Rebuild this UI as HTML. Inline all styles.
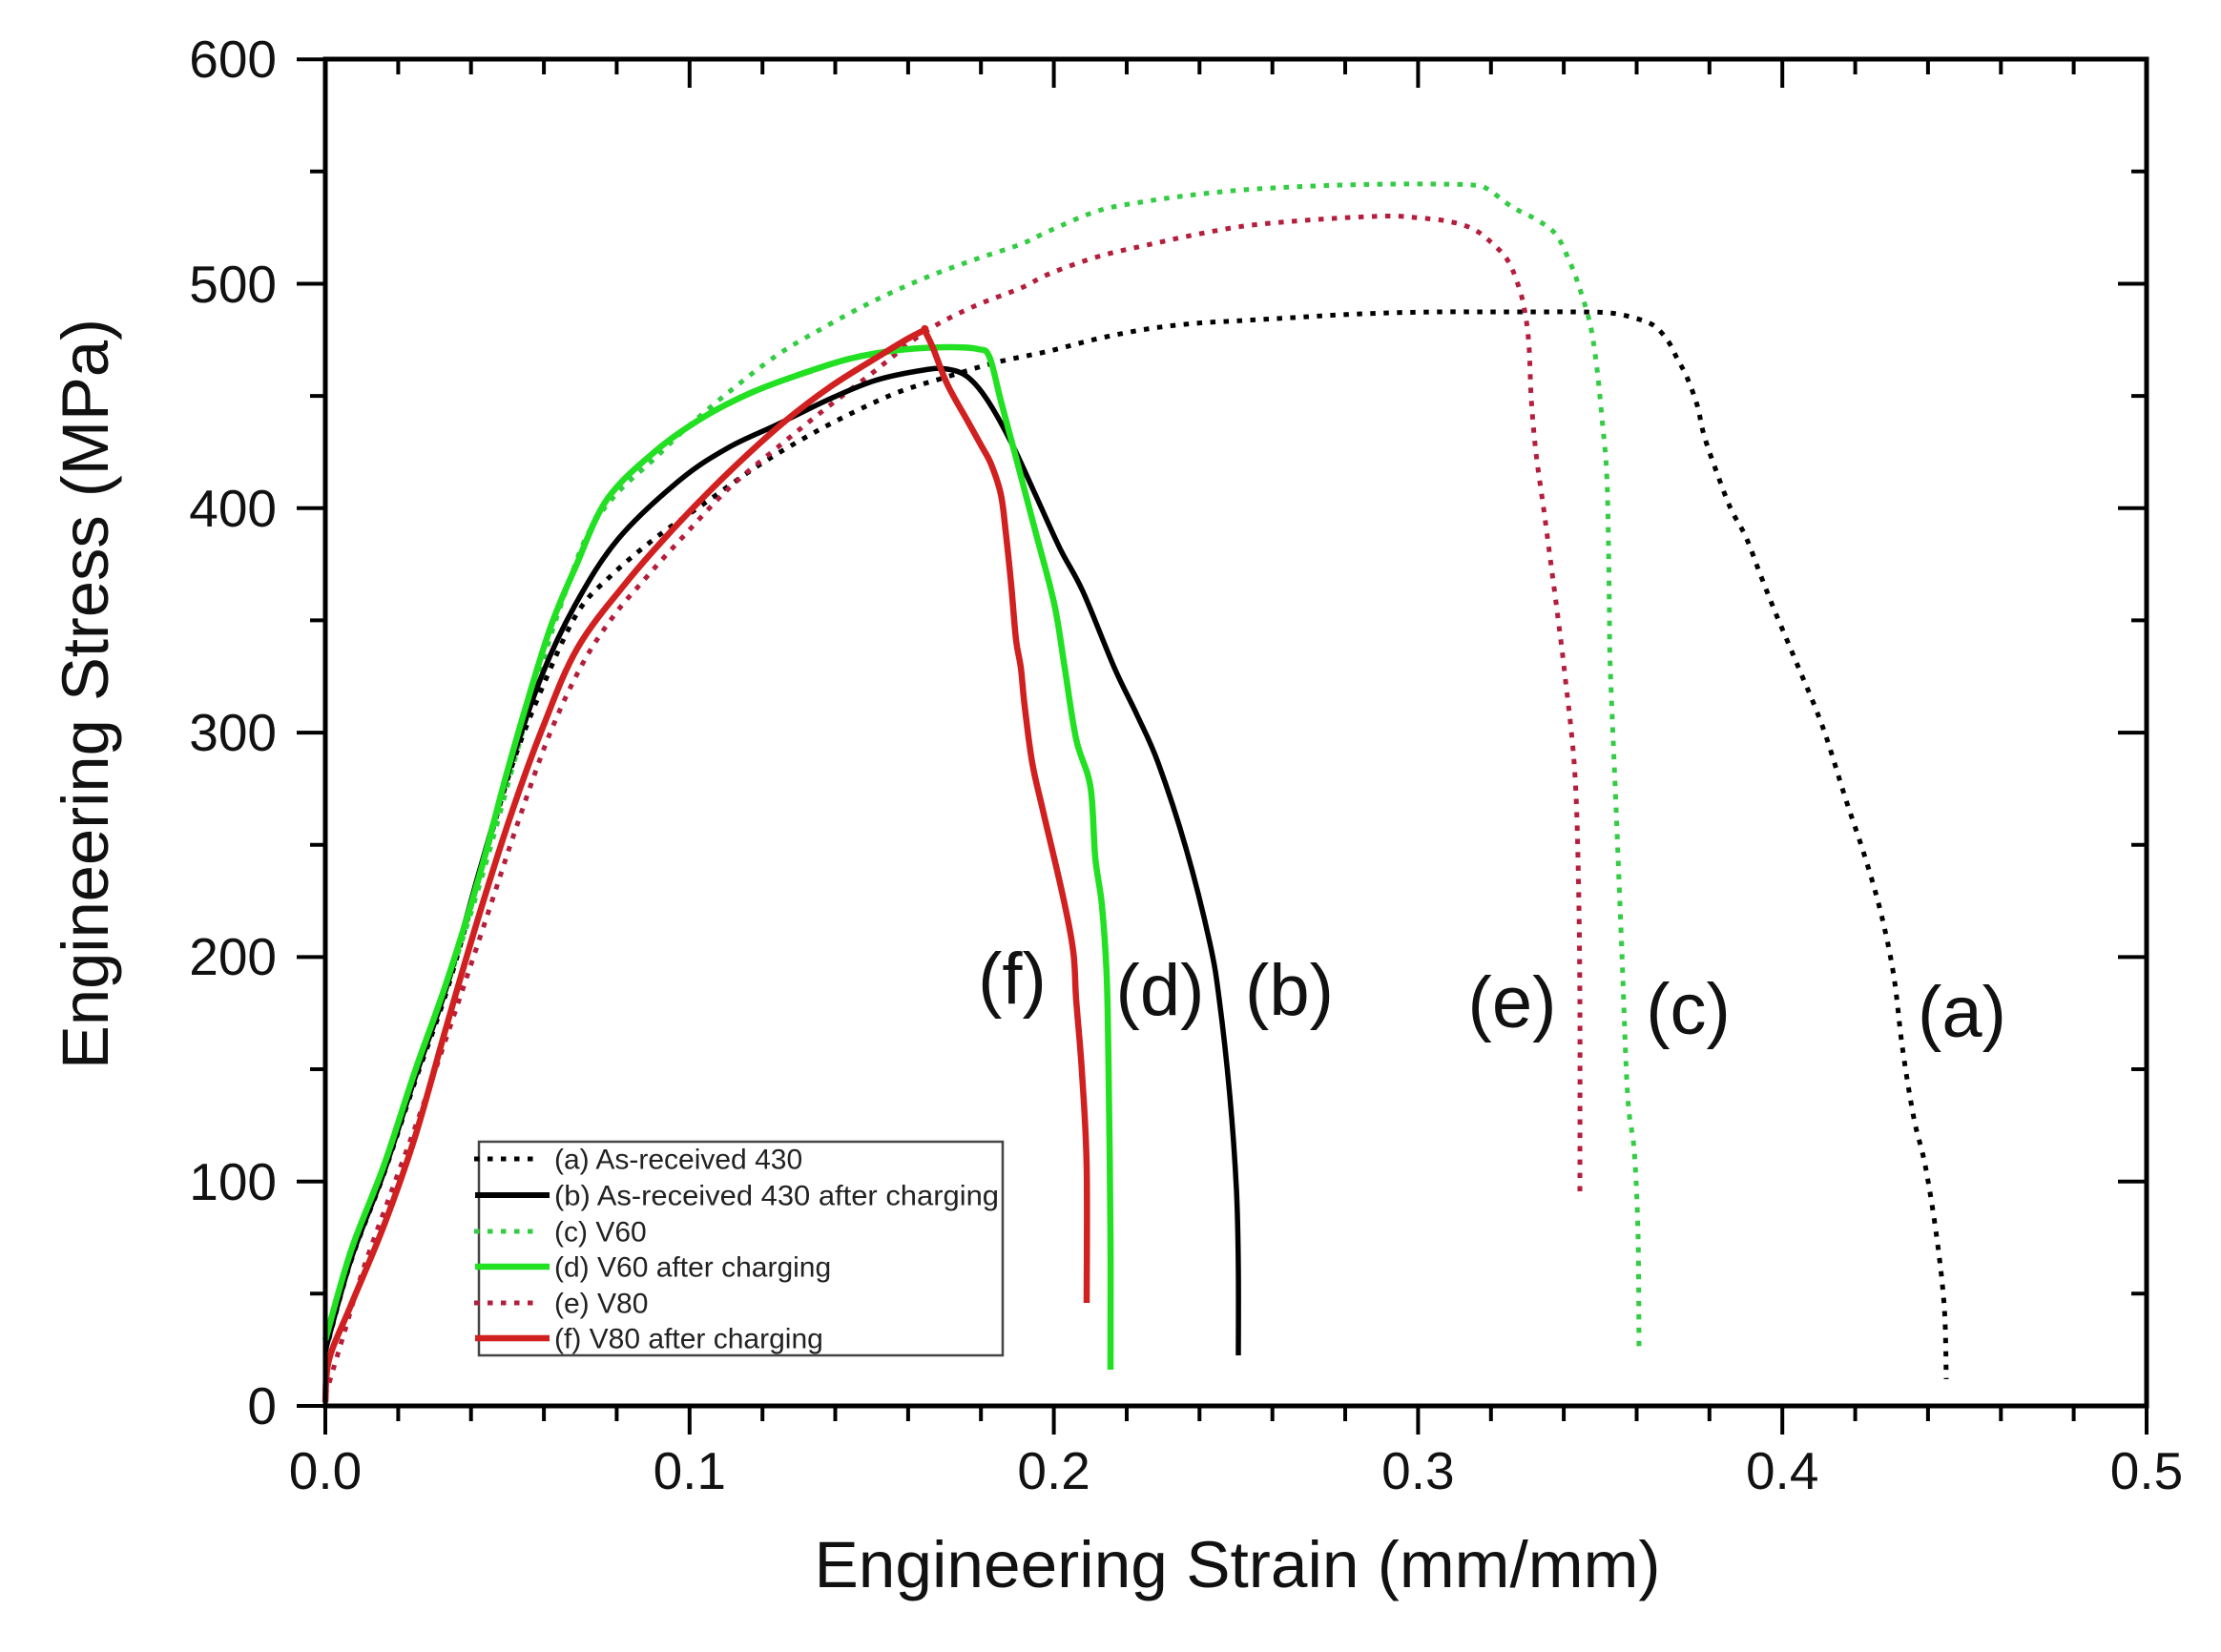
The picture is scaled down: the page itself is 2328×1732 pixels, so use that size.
<!DOCTYPE html>
<html>
<head>
<meta charset="utf-8">
<style>
html,body{margin:0;padding:0;background:#fff;}
svg{display:block;}
text{font-family:"Liberation Sans",Arial,sans-serif;}
</style>
</head>
<body>
<svg id="chart" width="2328" height="1732" viewBox="0 0 2328 1732" xmlns="http://www.w3.org/2000/svg">
<rect width="2328" height="1732" fill="#fff"/>

<!-- curves -->
<g fill="none" stroke-linejoin="round">
<!-- (a) As-received 430 : black dotted -->
<polyline class="s" stroke="#000" stroke-width="5" stroke-dasharray="5.5 8.5" points="341,1418 368,1322 402,1232 435,1134 468,1040 502,922 535,808 568,722 605,643 640,604 687,564 738,528 789,492 840,461 891,434 942,411 993,395 1044,380 1100,368 1151,355 1202,345 1253,339 1304,336 1355,333 1406,330 1457,328 1508,327 1560,327 1610,327 1650,327 1687,328 1712,333 1733,341 1748,357 1758,376 1768,395 1779,425 1786,456 1799,494 1814,533 1830,563 1845,602 1860,640 1876,678 1889,709 1902,740 1915,775 1935,839 1955,899 1972,959 1985,1023 1994,1098 2006,1172 2018,1222 2030,1297 2038,1371 2040,1446"/>
<!-- (c) V60 : green dotted -->
<polyline class="s" stroke="#33cc44" stroke-width="5" stroke-dasharray="5.5 8.5" points="341,1411 368,1317 402,1227 435,1130 468,1036 505,920 540,795 570,690 593,620 616,560 646,518 687,480 718,450 764,411 815,372 866,342 917,315 968,292 1019,273 1070,256 1100,242 1151,221 1202,211 1253,204 1304,199 1355,196 1406,194 1457,193 1508,193 1544,194 1559,198 1585,217 1610,230 1631,246 1646,276 1656,303 1667,341 1674,387 1679,437 1684,494 1686,571 1687,650 1688,705 1694,849 1700,998 1706,1148 1713,1207 1717,1297 1718,1416"/>
<!-- (e) V80 : red dotted -->
<polyline class="s" stroke="#b41e3c" stroke-width="5" stroke-dasharray="5.5 8.5" points="341,1463 360,1400 381,1330 410,1250 443,1160 476,1064 510,962 543,862 576,770 610,697 643,646 676,607 712,567 764,512 815,469 866,428 917,389 968,349 1019,322 1070,302 1100,287 1151,269 1202,257 1253,246 1304,237 1355,232 1406,228.5 1457,226.5 1488,228.5 1518,232 1544,240 1564,255 1580,272.5 1590,295 1597.5,322 1602.5,360.5 1605,418 1610,475 1618,533 1625.5,590 1633,647.5 1640,705 1650,800 1654,899 1656,1048 1656,1250"/>
<!-- (b) As-received 430 after charging : black solid -->
<polyline class="s" stroke="#000" stroke-width="5.5" points="341,1416 368,1320 402,1230 435,1130 468,1035 502,915 535,803 568,708 603,634 648,565 713,503 764,469 815,445 866,420 917,399 968,388 993,387 1014,395 1034,418 1060,464 1085,518 1111,575 1135,620 1168,700 1192,750 1214,800 1243,889 1268,988 1278,1048 1289,1148 1296,1247 1298,1330 1298,1421"/>
<!-- (d) V60 after charging : green solid -->
<polyline class="s" stroke="#22e022" stroke-width="6.5" points="341,1405 368,1311 402,1223 435,1123 468,1030 502,920 530,815 555,728 578,655 603,595 636,524 687,473 738,437 789,411 840,392 891,376 942,367 993,364 1025,366 1037,374 1049,420 1065,480 1085,556 1105,633 1116,700 1128,775 1143,825 1148,899 1155,949 1160,1023 1162,1123 1164,1300 1164,1436"/>
<!-- (f) V80 after charging : red solid -->
<polyline class="s" stroke="#d02020" stroke-width="6.5" points="341,1470 345,1425 368,1368 402,1286 435,1192 468,1076 502,960 535,856 568,765 605,680 657,610 708,552 764,495 820,444 871,405 922,373 950,356 969,346 969,346 978,365 993,403 1014,441 1029,468 1039,487 1049,518 1054,556 1060,614 1065,671 1070,700 1074,740 1082,800 1093,849 1114,939 1125,998 1128,1048 1134,1123 1139,1222 1139,1366"/>
</g>

<!-- frame -->
<rect x="341" y="62" width="1909" height="1412" fill="none" stroke="#000" stroke-width="5"/>

<!-- ticks -->
<g stroke="#000" stroke-width="4" fill="none">
<path d="M341,1474v30 M722.8,1474v30 M1104.6,1474v30 M1486.4,1474v30 M1868.2,1474v30 M2250,1474v30"/>
<path d="M722.8,62v30 M1104.6,62v30 M1486.4,62v30 M1868.2,62v30"/>
<path d="M417.4,1474v16 M493.7,1474v16 M570.1,1474v16 M646.4,1474v16 M799.2,1474v16 M875.5,1474v16 M951.9,1474v16 M1028.2,1474v16 M1181,1474v16 M1257.3,1474v16 M1333.7,1474v16 M1410,1474v16 M1562.8,1474v16 M1639.1,1474v16 M1715.5,1474v16 M1791.8,1474v16 M1944.6,1474v16 M2020.9,1474v16 M2097.3,1474v16 M2173.6,1474v16"/>
<path d="M417.4,62v16 M493.7,62v16 M570.1,62v16 M646.4,62v16 M799.2,62v16 M875.5,62v16 M951.9,62v16 M1028.2,62v16 M1181,62v16 M1257.3,62v16 M1333.7,62v16 M1410,62v16 M1562.8,62v16 M1639.1,62v16 M1715.5,62v16 M1791.8,62v16 M1944.6,62v16 M2020.9,62v16 M2097.3,62v16 M2173.6,62v16"/>
<path d="M341,1474h-30 M341,1238.7h-30 M341,1003.4h-30 M341,768.1h-30 M341,532.8h-30 M341,297.5h-30 M341,62.2h-30"/>
<path d="M341,1356.3h-16 M341,1121h-16 M341,885.7h-16 M341,650.4h-16 M341,415.1h-16 M341,179.8h-16"/>
<path d="M2250,1238.7h-30 M2250,1003.4h-30 M2250,768.1h-30 M2250,532.8h-30 M2250,297.5h-30"/>
<path d="M2250,1356.3h-16 M2250,1121h-16 M2250,885.7h-16 M2250,650.4h-16 M2250,415.1h-16 M2250,179.8h-16"/>
</g>

<!-- y tick labels -->
<g font-size="55" fill="#111" text-anchor="end">
<text x="290" y="1493">0</text>
<text x="290" y="1258">100</text>
<text x="290" y="1022">200</text>
<text x="290" y="787">300</text>
<text x="290" y="552">400</text>
<text x="290" y="317">500</text>
<text x="290" y="81">600</text>
</g>

<!-- x tick labels -->
<g font-size="55" fill="#111" text-anchor="middle">
<text x="341" y="1561">0.0</text>
<text x="722.8" y="1561">0.1</text>
<text x="1104.6" y="1561">0.2</text>
<text x="1486.4" y="1561">0.3</text>
<text x="1868.2" y="1561">0.4</text>
<text x="2250" y="1561">0.5</text>
</g>

<!-- axis titles -->
<text x="1297" y="1664" font-size="69" fill="#111" text-anchor="middle" textLength="887" lengthAdjust="spacingAndGlyphs">Engineering Strain (mm/mm)</text>
<text transform="translate(113,727.5) rotate(-90)" x="0" y="0" font-size="69" fill="#111" text-anchor="middle" textLength="787" lengthAdjust="spacingAndGlyphs">Engineering Stress (MPa)</text>

<!-- curve labels -->
<g font-size="76" fill="#111" text-anchor="middle">
<text x="1061" y="1052">(f)</text>
<text x="1216" y="1064">(d)</text>
<text x="1351.5" y="1064">(b)</text>
<text x="1585" y="1077">(e)</text>
<text x="1769.5" y="1084">(c)</text>
<text x="2056.5" y="1087">(a)</text>
</g>

<!-- legend -->
<rect x="502" y="1197" width="549" height="224" fill="#fff" stroke="#444" stroke-width="2.5"/>
<g fill="none">
<line x1="497" y1="1215" x2="565" y2="1215" stroke="#000" stroke-width="5" stroke-dasharray="5.5 8.5"/>
<line x1="498" y1="1253" x2="576" y2="1253" stroke="#000" stroke-width="6"/>
<line x1="497" y1="1291" x2="565" y2="1291" stroke="#33cc44" stroke-width="5" stroke-dasharray="5.5 8.5"/>
<line x1="498" y1="1328" x2="576" y2="1328" stroke="#22e022" stroke-width="6.5"/>
<line x1="497" y1="1366" x2="565" y2="1366" stroke="#b41e3c" stroke-width="5" stroke-dasharray="5.5 8.5"/>
<line x1="498" y1="1403" x2="576" y2="1403" stroke="#d02020" stroke-width="6.5"/>
</g>
<g font-size="30" fill="#222">
<text x="581" y="1225.5">(a) As-received 430</text>
<text x="581" y="1263.5" textLength="466" lengthAdjust="spacingAndGlyphs">(b) As-received 430 after charging</text>
<text x="581" y="1301.5">(c) V60</text>
<text x="581" y="1338.5">(d) V60 after charging</text>
<text x="581" y="1376.5">(e) V80</text>
<text x="581" y="1413.5">(f) V80 after charging</text>
</g>
</svg>
<script>
(function(){
  var NS="http://www.w3.org/2000/svg";
  var pls=document.querySelectorAll("polyline.s");
  for(var i=0;i<pls.length;i++){
    var pl=pls[i];
    var raw=pl.getAttribute("points").trim().split(/\s+/);
    var p=[];
    for(var j=0;j<raw.length;j++){var xy=raw[j].split(",");p.push([+xy[0],+xy[1]]);}
    if(p.length<3) continue;
    var d="M"+p[0][0]+","+p[0][1];
    for(var k=0;k<p.length-1;k++){
      var p0=p[k>0?k-1:k],p1=p[k],p2=p[k+1],p3=p[k+2<p.length?k+2:k+1];
      var c1x=p1[0]+(p2[0]-p0[0])/6,c1y=p1[1]+(p2[1]-p0[1])/6;
      var c2x=p2[0]-(p3[0]-p1[0])/6,c2y=p2[1]-(p3[1]-p1[1])/6;
      d+=" C"+c1x.toFixed(1)+","+c1y.toFixed(1)+" "+c2x.toFixed(1)+","+c2y.toFixed(1)+" "+p2[0]+","+p2[1];
    }
    var path=document.createElementNS(NS,"path");
    path.setAttribute("d",d);
    var attrs=["stroke","stroke-width","stroke-dasharray"];
    for(var a=0;a<attrs.length;a++){var v=pl.getAttribute(attrs[a]);if(v)path.setAttribute(attrs[a],v);}
    path.setAttribute("fill","none");
    path.setAttribute("stroke-linejoin","round");
    pl.parentNode.replaceChild(path,pl);
  }
})();
</script>
</body>
</html>
